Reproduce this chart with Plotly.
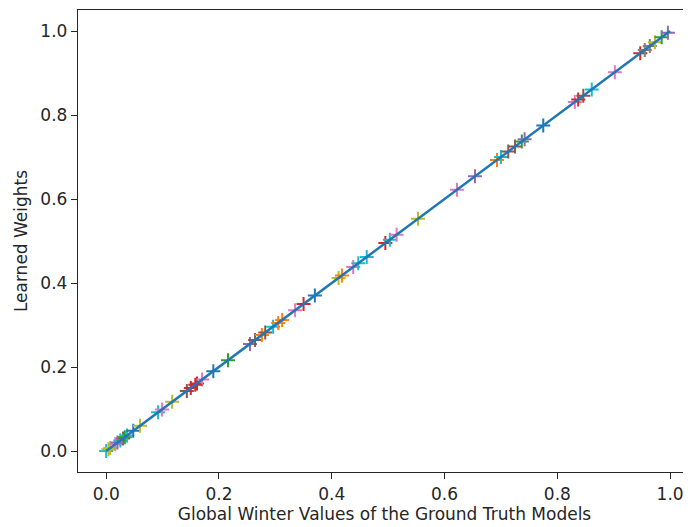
import plotly.graph_objects as go

# Ground-truth global Winter values (x) and learned weights (y)
gt_values = [0.000, 0.007, 0.016, 0.025, 0.030, 0.037, 0.048, 0.060, 0.092, 0.099,
             0.117, 0.143, 0.150, 0.161, 0.170, 0.190, 0.216, 0.255, 0.264, 0.276,
             0.282, 0.296, 0.305, 0.312, 0.335, 0.350, 0.370, 0.412, 0.418, 0.438,
             0.447, 0.462, 0.495, 0.503, 0.515, 0.553, 0.622, 0.654, 0.693, 0.700,
             0.713, 0.725, 0.737, 0.742, 0.775, 0.831, 0.837, 0.846, 0.861, 0.902,
             0.947, 0.955, 0.964, 0.973, 0.985, 0.996, 0.004, 0.020, 0.033, 0.158]
learned_weights = [0.000, 0.007, 0.016, 0.025, 0.030, 0.037, 0.048, 0.060, 0.092, 0.099,
                   0.117, 0.143, 0.150, 0.161, 0.170, 0.190, 0.216, 0.255, 0.264, 0.276,
                   0.282, 0.296, 0.305, 0.312, 0.335, 0.350, 0.370, 0.412, 0.418, 0.438,
                   0.447, 0.462, 0.495, 0.503, 0.515, 0.553, 0.622, 0.654, 0.693, 0.700,
                   0.713, 0.725, 0.737, 0.742, 0.775, 0.831, 0.837, 0.846, 0.861, 0.902,
                   0.947, 0.955, 0.964, 0.973, 0.985, 0.996, 0.004, 0.020, 0.033, 0.158]
point_colors = ["#17becf", "#bcbd22", "#e377c2", "#17becf", "#8c564b", "#17becf", "#1f77b4", "#bcbd22", "#17becf", "#e377c2",
                "#bcbd22", "#8c564b", "#d62728", "#d62728", "#e377c2", "#1f77b4", "#2ca02c", "#9467bd", "#8c564b", "#ff7f0e",
                "#8c564b", "#17becf", "#ff7f0e", "#ff7f0e", "#e377c2", "#d62728", "#1f77b4", "#bcbd22", "#ff7f0e", "#e377c2",
                "#17becf", "#17becf", "#d62728", "#17becf", "#e377c2", "#bcbd22", "#e377c2", "#9467bd", "#ff7f0e", "#17becf",
                "#8c564b", "#8c564b", "#2ca02c", "#9467bd", "#1f77b4", "#e377c2", "#d62728", "#8c564b", "#17becf", "#e377c2",
                "#d62728", "#7f7f7f", "#7f7f7f", "#bcbd22", "#2ca02c", "#9467bd", "#bcbd22", "#9467bd", "#2ca02c", "#d62728"]
line_x = [0.0, 1.0]
line_y = [0.0, 1.0]
x_ticks = [0.0, 0.2, 0.4, 0.6, 0.8, 1.0]
y_ticks = [0.0, 0.2, 0.4, 0.6, 0.8, 1.0]

fig = go.Figure()
fig.add_trace(go.Scatter(
    x=gt_values, y=learned_weights, mode="markers",
    marker=dict(symbol="cross-thin", size=10, color=point_colors,
                line=dict(color=point_colors, width=2)),
    showlegend=False, hoverinfo="skip"))
fig.add_trace(go.Scatter(
    x=line_x, y=line_y, mode="lines",
    line=dict(color="#1f77b4", width=2.5), showlegend=False))

font = "DejaVu Sans, sans-serif"
# page body has an 8px default margin, so the figure is sized to the remaining window
fig.update_layout(
    width=683, height=519,
    margin=dict(l=70, r=0, t=2, b=55, autoexpand=False),
    paper_bgcolor="white", plot_bgcolor="white",
    font=dict(family=font, size=17, color="#262626"),
)
fig.update_xaxes(
    range=[-0.05, 1.037], tickvals=x_ticks, tickformat=".1f", automargin=False,
    showgrid=False, zeroline=False, showline=True, linecolor="#262626", linewidth=1.4,
    mirror=True, ticks="outside", ticklen=6, tickwidth=1.4, tickcolor="#262626",
    title=dict(text="Global Winter Values of the Ground Truth Models", standoff=4,
               font=dict(size=17)),
)
fig.update_yaxes(
    range=[-0.05, 1.05], tickvals=y_ticks, tickformat=".1f", automargin=False,
    showgrid=False, zeroline=False, showline=True, linecolor="#262626", linewidth=1.4,
    mirror=False, ticks="outside", ticklen=6, tickwidth=1.4, tickcolor="#262626",
    title=dict(text="Learned Weights", standoff=8, font=dict(size=17)),
)
fig.write_html("out.html")
